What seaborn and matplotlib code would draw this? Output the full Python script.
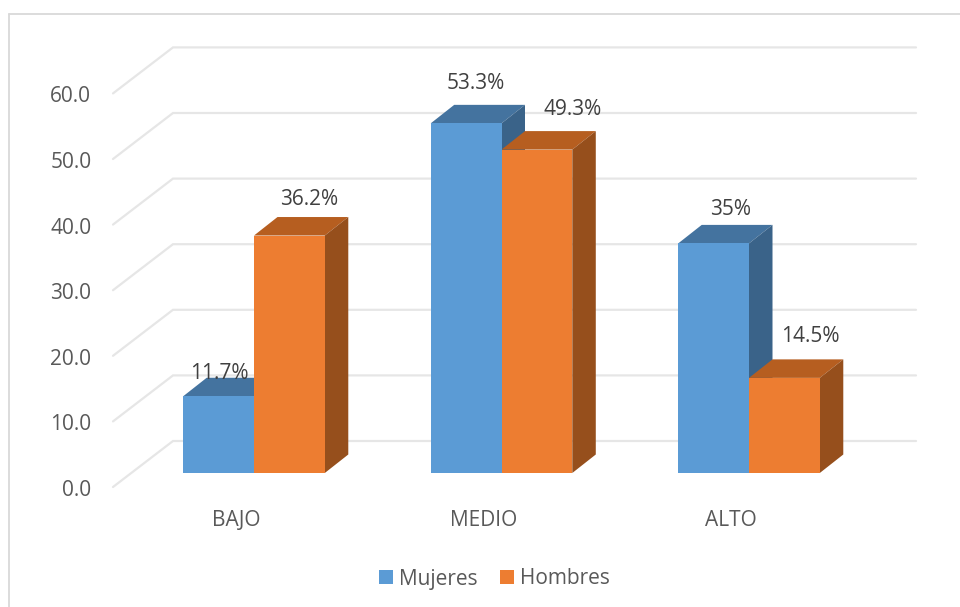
import matplotlib
matplotlib.use("Agg")
import matplotlib.pyplot as plt
from matplotlib.lines import Line2D
from matplotlib.patches import Polygon
from matplotlib.transforms import ScaledTranslation
import pandas as pd
import seaborn as sns

niveles = ["BAJO", "MEDIO", "ALTO"]
mujeres = [11.7, 53.3, 35.0]
hombres = [36.2, 49.3, 14.5]
ticks_y = [0, 10, 20, 30, 40, 50, 60]

# Pixel nudges of each value label relative to the top centre of its bar
nudge_mujeres = [(1, 23), (10, 40), (17, 34)]
nudge_hombres = [(20, 36), (36, 40), (26, 41)]

AZUL, AZUL_TOP, AZUL_SIDE = "#5B9BD5", "#44739F", "#3A6389"
NARANJA, NARANJA_TOP, NARANJA_SIDE = "#ED7D31", "#B65E20", "#964F1C"
GRIS = "#E6E6E6"
TEXTO_SIZE = 15

W, H = 960, 607
PX_X = 247.5          # pixels per category
PX_Y = 6.56           # pixels per percentage point
X0, Y0 = 254.0, 473.0  # pixel position of the first category on the baseline

sns.set_theme(style="white")
plt.rcParams["font.family"] = ["Open Sans", "DejaVu Sans"]

fig = plt.figure(figsize=(W / 100, H / 100), dpi=100)
ax = fig.add_axes([
    (X0 - 0.5 * PX_X) / W,
    (H - Y0) / H,
    3 * PX_X / W,
    60 * PX_Y / H,
])

df = pd.DataFrame({
    "nivel": niveles * 2,
    "pct": mujeres + hombres,
    "sexo": ["Mujeres"] * 3 + ["Hombres"] * 3,
})
sns.barplot(
    data=df, x="nivel", y="pct", hue="sexo", order=niveles,
    palette={"Mujeres": AZUL, "Hombres": NARANJA},
    width=0.572, gap=0, saturation=1, ax=ax, linewidth=0,
)
ax.set_xlim(-0.5, 2.5)
ax.set_ylim(0, 60)
ax.set_xlabel("")
ax.set_ylabel("")
sns.despine(ax=ax, left=True, bottom=True)


def dx(px):
    return px / PX_X


def dy(px):
    return px / PX_Y


# Back wall and floor guides of the pseudo 3D plot box
left_front, left_back, right_back = 113 - X0, 173 - X0, 916 - X0
drop_front, rise_back = 487 - Y0, Y0 - 441
for v in ticks_y:
    ax.plot(
        [dx(left_front), dx(left_back), dx(right_back)],
        [v - dy(drop_front), v + dy(rise_back), v + dy(rise_back)],
        color=GRIS, lw=1.6, clip_on=False, zorder=1,
        solid_joinstyle="miter",
    )

# Extruded top and side faces for each bar
DEPTH_X, DEPTH_Y = dx(23.5), dy(18.5)
faces = [(AZUL_TOP, AZUL_SIDE, 3, 5), (NARANJA_TOP, NARANJA_SIDE, 4, 6)]
for container, (c_top, c_side, z_back, z_front) in zip(ax.containers, faces):
    for bar in container:
        x0, x1 = bar.get_x(), bar.get_x() + bar.get_width()
        h = bar.get_height()
        ax.add_patch(Polygon(
            [(x0, h), (x1, h), (x1 + DEPTH_X, h + DEPTH_Y), (x0 + DEPTH_X, h + DEPTH_Y)],
            closed=True, fc=c_top, ec="none", clip_on=False, zorder=z_back,
        ))
        ax.add_patch(Polygon(
            [(x1, 0), (x1 + DEPTH_X, DEPTH_Y), (x1 + DEPTH_X, h + DEPTH_Y), (x1, h)],
            closed=True, fc=c_side, ec="none", clip_on=False, zorder=z_back,
        ))
        bar.set_zorder(z_front)

# Value labels
for container, nudges in zip(ax.containers, [nudge_mujeres, nudge_hombres]):
    for bar, (nx, ny) in zip(container, nudges):
        ax.annotate(
            f"{bar.get_height():g}%",
            (bar.get_x() + bar.get_width() / 2, bar.get_height()),
            xytext=(nx, ny), textcoords="offset pixels",
            ha="center", va="center", fontsize=TEXTO_SIZE, color="#404040",
            zorder=8, annotation_clip=False,
        )

# Axis labels sit on the front edge of the floor rather than on the bars
ax.set_yticks(ticks_y)
ax.set_yticklabels([f"{v:.1f}" for v in ticks_y])
ax.tick_params(axis="y", length=0, pad=28, labelsize=TEXTO_SIZE, labelcolor="#595959")
ax.tick_params(axis="x", length=0, pad=26.5, labelsize=TEXTO_SIZE, labelcolor="#595959")
shift_y = ScaledTranslation(0, -15 / 100, fig.dpi_scale_trans)
shift_x = ScaledTranslation(-18 / 100, 0, fig.dpi_scale_trans)
for lab in ax.get_yticklabels():
    lab.set_transform(lab.get_transform() + shift_y)
for lab in ax.get_xticklabels():
    lab.set_transform(lab.get_transform() + shift_x)

# Legend below the plot
handles, labels = ax.get_legend_handles_labels()
ax.get_legend().remove()
fig.legend(
    handles, labels, ncol=2, frameon=False, loc="center",
    bbox_to_anchor=(494.5 / W, 1 - 579 / H),
    fontsize=TEXTO_SIZE, labelcolor="#595959",
    handlelength=0.67, handleheight=0.67, handletextpad=0.29, columnspacing=1.1,
)

# Chart frame, visible along the top and left only
frame = dict(color="#D9D9D9", lw=1.3, transform=fig.transFigure)
fig.add_artist(Line2D([8.5 / W, 1], [1 - 13.5 / H, 1 - 13.5 / H], **frame))
fig.add_artist(Line2D([8.5 / W, 8.5 / W], [0, 1 - 13.5 / H], **frame))

fig.savefig("out.png", dpi=100)
